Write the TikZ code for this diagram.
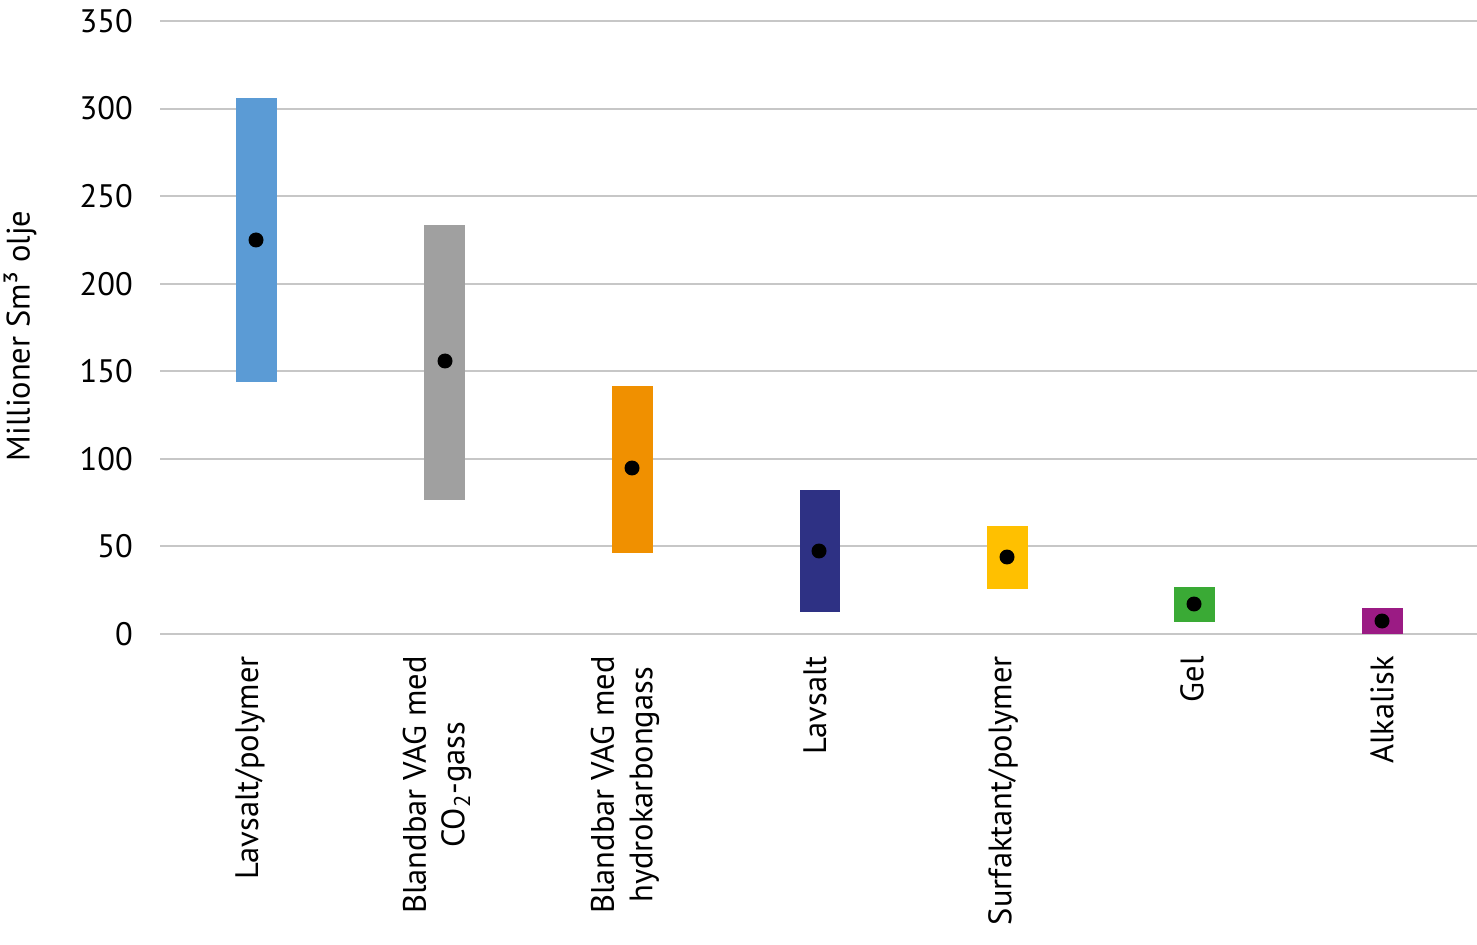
\documentclass[tikz,border=0pt]{standalone}
\usepackage{fontspec}
\setmainfont{PT Sans}
\begin{document}
\begin{tikzpicture}[x=0.02cm,y=-0.02cm,
  grid/.style={draw=black!22,line width=1.2pt},
  tick/.style={anchor=east,font=\fontsize{18.5}{22}\selectfont},
  bar/.style={draw=none},
  dot/.style={circle,fill=black,inner sep=0pt,minimum size=0.3cm},
  cat/.style={rotate=90,anchor=east,align=center,font=\fontsize{18.5}{22}\selectfont}]
\useasboundingbox (0,0) rectangle (1477,945);
\foreach \v [count=\i from 0] in {0,50,100,150,200,250,300,350}{
  \draw[grid] (160,634-87.57*\i) -- (1477,634-87.57*\i);
  \node[tick] (t\i) at (139,634-87.57*\i) {\v};
}
\node[rotate=90,font=\fontsize{18.5}{22}\selectfont] (yl) at (20,336) {Millioner Sm³ olje};
\fill[color={rgb,255:red,91;green,155;blue,213}] (236,98) rectangle (277,382);
\fill[color={rgb,255:red,160;green,160;blue,160}] (424,225) rectangle (465,500);
\fill[color={rgb,255:red,240;green,144;blue,0}] (612,386) rectangle (653,553);
\fill[color={rgb,255:red,46;green,49;blue,132}] (800,490) rectangle (840,612);
\fill[color={rgb,255:red,255;green,192;blue,0}] (987,526) rectangle (1028,589);
\fill[color={rgb,255:red,58;green,170;blue,53}] (1174,587) rectangle (1215,622);
\fill[color={rgb,255:red,155;green,27;blue,132}] (1362,608) rectangle (1403,634);
\node[dot] (d1) at (256,240) {};
\node[dot] (d2) at (445,361) {};
\node[dot] (d3) at (632,468) {};
\node[dot] (d4) at (819,551) {};
\node[dot] (d5) at (1007,557) {};
\node[dot] (d6) at (1194,604) {};
\node[dot] (d7) at (1382,621) {};
\node[cat] (c1) at (250,650) {Lavsalt/polymer};
\node[cat] (c2) at (437,650) {Blandbar VAG med\\CO\textsubscript{2}-gass};
\node[cat] (c3) at (625,650) {Blandbar VAG med\\hydrokarbongass};
\node[cat] (c4) at (815,650) {Lavsalt};
\node[cat] (c5) at (1003,650) {Surfaktant/polymer};
\node[cat] (c6) at (1192,650) {Gel};
\node[cat] (c7) at (1382,650) {Alkalisk};
\end{tikzpicture}
\end{document}
